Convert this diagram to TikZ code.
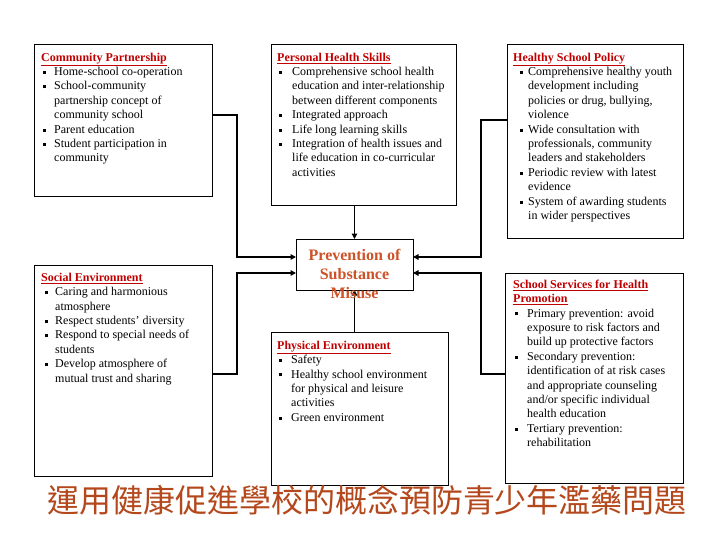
\documentclass[tikz,border=0pt]{standalone}
\usepackage{fontspec}
\setmainfont{Liberation Serif}
\newfontfamily\cjk{Noto Sans CJK TC}
\usetikzlibrary{arrows.meta}
\definecolor{headred}{RGB}{192,0,0}
\definecolor{midcol}{RGB}{205,82,40}
\definecolor{titlecol}{RGB}{180,72,28}
\newcommand\hd[1]{\rule{0pt}{10pt}\textcolor{headred}{\textbf{\underline{#1}}}}
\newcommand\bul{\raisebox{0.3ex}{\rule{3pt}{3pt}}}
\newcommand\li[3]{\hspace*{#1pt}\makebox[\dimexpr#2pt-#1pt\relax][l]{\bul}#3}
\newcommand\lc[2]{\hspace*{#1pt}#2}
\begin{document}
\begin{tikzpicture}[x=1pt,y=-1pt,
  box/.style={draw=black,line width=1pt,inner sep=0pt,outer sep=0pt,anchor=north west},
  txt/.style={anchor=north west,inner sep=0pt,align=left,font=\fontsize{12}{14.4}\selectfont},
  conn/.style={line width=1.3pt,-{Triangle[length=5.5pt,width=5.5pt]}}]
\useasboundingbox[fill=white] (0,0) rectangle (720,540);
% boxes
\node[box,minimum width=178pt,minimum height=152pt] (cp) at (34,45) {};
\node[box,minimum width=185pt,minimum height=161pt] (phs) at (271,45) {};
\node[box,minimum width=176pt,minimum height=193pt] (hsp) at (507,45) {};
\node[box,minimum width=178pt,minimum height=211pt] (se) at (34,265) {};
\node[box,minimum width=117pt,minimum height=51pt] (mid) at (296,239) {};
\node[box,minimum width=177pt,minimum height=153pt] (pe) at (271,332) {};
\node[box,minimum width=178pt,minimum height=210pt] (ss) at (505,273) {};
% connectors
\draw[conn] (mid.north |- phs.south) -- (mid.north);
\draw[conn] (mid.south |- pe.north) -- (mid.south);
\draw[conn] ([yshift=-70pt]cp.north east) -- ++(25,0) |- ([yshift=-18pt]mid.north west);
\draw[conn] ([yshift=-109pt]se.north east) -- ++(25,0) |- ([yshift=-34pt]mid.north west);
\draw[conn] ([yshift=-75pt]hsp.north west) -- ++(-26,0) |- ([yshift=-18pt]mid.north east);
\draw[conn] ([yshift=-101pt]ss.north west) -- ++(-24,0) |- ([yshift=-34pt]mid.north east);
% texts
\node[txt] (cpt) at (41,51) {\hd{Community Partnership}\\
\li{2}{13}{Home-school co-operation}\\
\li{2}{13}{School-community}\\
\lc{13}{partnership concept of}\\
\lc{13}{community school}\\
\li{2}{13}{Parent education}\\
\li{2}{13}{Student participation in}\\
\lc{13}{community}};
\node[txt] (phst) at (277,51) {\hd{Personal Health Skills}\\
\li{2}{15}{Comprehensive school health}\\
\lc{15}{education and inter-relationship}\\
\lc{15}{between different components}\\
\li{2}{15}{Integrated approach}\\
\li{2}{15}{Life long learning skills}\\
\li{2}{15}{Integration of health issues and}\\
\lc{15}{life education in co-curricular}\\
\lc{15}{activities}};
\node[txt] (hspt) at (513,51) {\hd{Healthy School Policy}\\
\li{7}{15}{Comprehensive healthy youth}\\
\lc{15}{development including}\\
\lc{15}{policies or drug, bullying,}\\
\lc{15}{violence}\\
\li{7}{15}{Wide consultation with}\\
\lc{15}{professionals, community}\\
\lc{15}{leaders and stakeholders}\\
\li{7}{15}{Periodic review with latest}\\
\lc{15}{evidence}\\
\li{7}{15}{System of awarding students}\\
\lc{15}{in wider perspectives}};
\node[txt] (set) at (41,271) {\hd{Social Environment}\\
\li{4}{14}{Caring and harmonious}\\
\lc{14}{atmosphere}\\
\li{4}{14}{Respect students' diversity}\\
\li{4}{14}{Respond to special needs of}\\
\lc{14}{students}\\
\li{4}{14}{Develop atmosphere of}\\
\lc{14}{mutual trust and sharing}};
\node[txt] (pet) at (277,339) {\hd{Physical Environment}\\
\li{2}{14}{Safety}\\
\li{2}{14}{Healthy school environment}\\
\lc{14}{for physical and leisure}\\
\lc{14}{activities}\\
\li{2}{14}{Green environment}};
\node[txt] (sst) at (513,278) {\hd{School Services for Health}\\
\textcolor{headred}{\textbf{\underline{Promotion}}}\\
\li{2}{14}{Primary prevention: avoid}\\
\lc{14}{exposure to risk factors and}\\
\lc{14}{build up protective factors}\\
\li{2}{14}{Secondary prevention:}\\
\lc{14}{identification of at risk cases}\\
\lc{14}{and appropriate counseling}\\
\lc{14}{and/or specific individual}\\
\lc{14}{health education}\\
\li{2}{14}{Tertiary prevention:}\\
\lc{14}{rehabilitation}};
\node[align=center,inner sep=0pt,text=midcol,font=\fontsize{16}{19}\selectfont\bfseries] (midt) at (354.5,274) {Prevention of\\Substance\\Misuse};
\node[inner sep=0pt,text=titlecol,font=\cjk\fontsize{32}{32}\selectfont] (title) at (367,500) {運用健康促進學校的概念預防青少年濫藥問題};
\end{tikzpicture}
\end{document}
